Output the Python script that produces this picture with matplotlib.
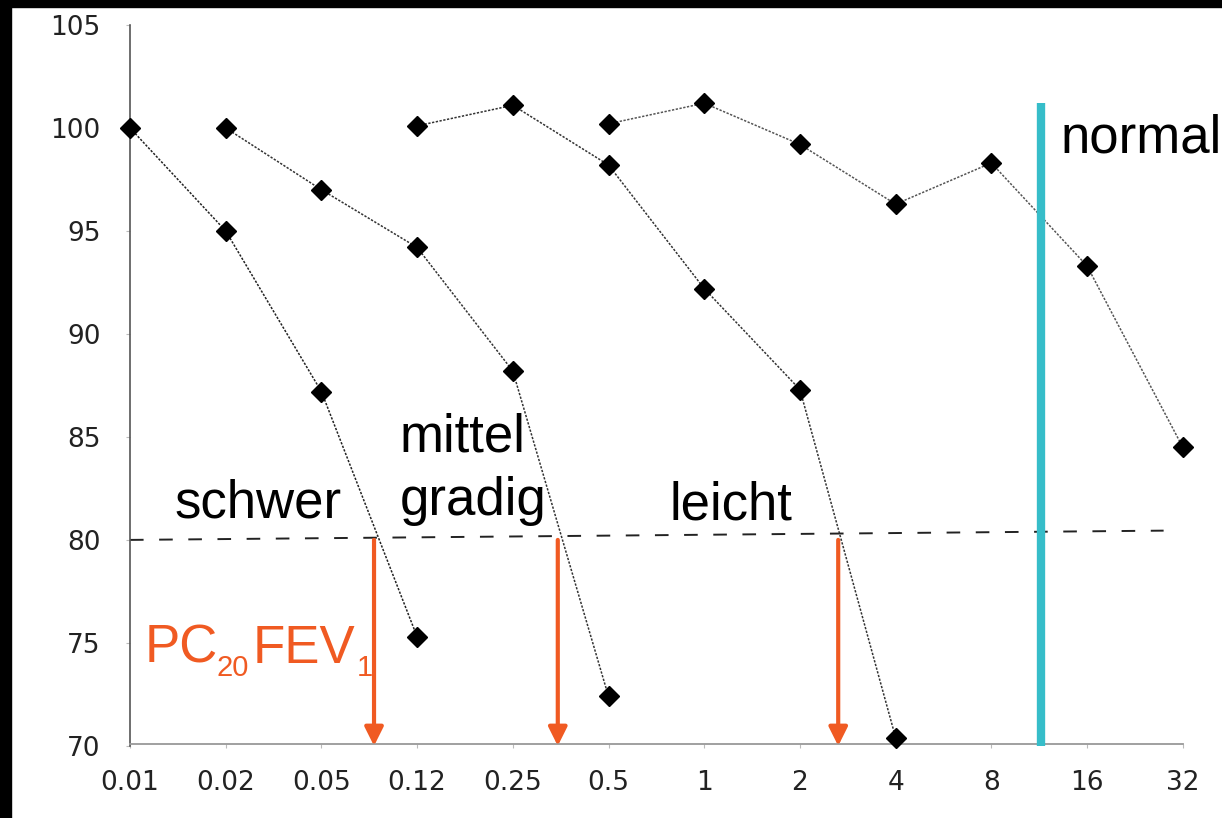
import numpy as np
import matplotlib.pyplot as plt
import matplotlib.patches as patches

# Dosis-Stufen (mg/ml) auf der x-Achse
dosen = ['0.01', '0.02', '0.05', '0.12', '0.25', '0.5', '1', '2', '4', '8', '16', '32']
y_ticks = [70, 75, 80, 85, 90, 95, 100, 105]

# FEV1 in % vom Ausgangswert, je Kurve ab erster Dosis-Stufe
schwer_start = 0
schwer = [100, 95, 87.2, 75.3]
mittel_start = 1
mittel = [100, 97, 94.2, 88.2, 72.4]
leicht_start = 3
leicht = [100.1, 101.1, 98.2, 92.2, 87.3, 70.4]
normal_start = 5
normal = [100.2, 101.2, 99.2, 96.3, 98.3, 93.3, 84.5]

# PC20-Pfeile (Position auf der Dosis-Achse) und Grenze "normal"
pc20_pos = [2.55, 4.47, 7.4]
grenze_pos = 9.52
orange = '#F05A22'
cyan = '#36BDC9'

plt.rcParams['font.family'] = ['Liberation Sans', 'DejaVu Sans']

fig = plt.figure(figsize=(12.22, 8.18), dpi=100)
fig.patch.set_facecolor('white')
ax = fig.add_axes([0, 0, 1, 1])
ax.set_xlim(-1.358, 11.41)
ax.set_ylim(66.5, 106.21)
ax.set_facecolor('white')

# schwarzer Rand oben und links (Bildschirmfoto)
fig.patches.append(patches.Rectangle((0, 0.991), 1, 0.009, transform=fig.transFigure,
                                     color='black', zorder=10))
fig.patches.append(patches.Rectangle((0, 0), 0.009, 1, transform=fig.transFigure,
                                     color='black', zorder=10))

# Achsen
for s in ['top', 'right']:
    ax.spines[s].set_visible(False)
ax.spines['left'].set_position(('data', 0))
ax.spines['left'].set_bounds(70, 105)
ax.spines['left'].set_color('#555555')
ax.spines['left'].set_linewidth(1.2)
ax.spines['bottom'].set_position(('data', 70.1))
ax.spines['bottom'].set_bounds(0, 11)
ax.spines['bottom'].set_color('#999999')
ax.spines['bottom'].set_linewidth(1.3)

ax.set_yticks(y_ticks)
ax.set_yticklabels([str(v) for v in y_ticks])
ax.set_xticks(np.arange(len(dosen)))
ax.set_xticklabels(dosen)
ax.tick_params(axis='y', length=3, color='#bbbbbb', pad=18, labelsize=19)
ax.tick_params(axis='x', length=3, color='#bbbbbb', pad=16, labelsize=19)
for lab in ax.get_xticklabels() + ax.get_yticklabels():
    lab.set_family('DejaVu Sans')
    lab.set_color('#222222')

# 80%-Linie
ax.plot([0, 10.8], [80.0, 80.45], color='#222222', lw=1.4, dashes=(7, 8))

# Kurven
kurven = [(schwer_start, schwer, '#222222'),
          (mittel_start, mittel, '#333333'),
          (leicht_start, leicht, '#333333'),
          (normal_start, normal, '#555555')]
for start, werte, farbe in kurven:
    xs = np.arange(start, start + len(werte))
    ax.plot(xs, werte, color=farbe, lw=1.1, linestyle=(0, (1.5, 1)),
            marker='D', markersize=10, markerfacecolor='black',
            markeredgecolor='black', zorder=5)

# PC20-Pfeile
for xp in pc20_pos:
    ax.annotate('', xy=(xp, 70.0), xytext=(xp, 80.0),
                arrowprops=dict(arrowstyle='-|>', color=orange, lw=3,
                                mutation_scale=28, shrinkA=0, shrinkB=0))

# Grenze normal
ax.plot([grenze_pos, grenze_pos], [70, 101.2], color=cyan, lw=6,
        solid_capstyle='butt', zorder=6)

# Beschriftungen
fs = 38
fs_sub = 21
ax.text(0.47, 81.07, 'schwer', fontsize=fs, va='baseline', ha='left')
ax.text(2.82, 84.3, 'mittel', fontsize=fs, va='baseline', ha='left')
ax.text(2.82, 81.2, 'gradig', fontsize=fs, va='baseline', ha='left')
ax.text(5.64, 80.97, 'leicht', fontsize=fs, va='baseline', ha='left')
ax.text(9.72, 98.83, 'normal', fontsize=fs, va='baseline', ha='left')

# PC20FEV1 mit tiefgestellten Zahlen
ax.text(0.157, 74.03, 'PC', fontsize=fs, color=orange, va='baseline', ha='left')
ax.text(0.909, 73.40, '20', fontsize=fs_sub, color=orange, va='baseline', ha='left')
ax.text(1.285, 74.03, 'FEV', fontsize=fs, color=orange, va='baseline', ha='left')
ax.text(2.372, 73.40, '1', fontsize=fs_sub, color=orange, va='baseline', ha='left')

fig.savefig('out.png', dpi=100, facecolor='white')
